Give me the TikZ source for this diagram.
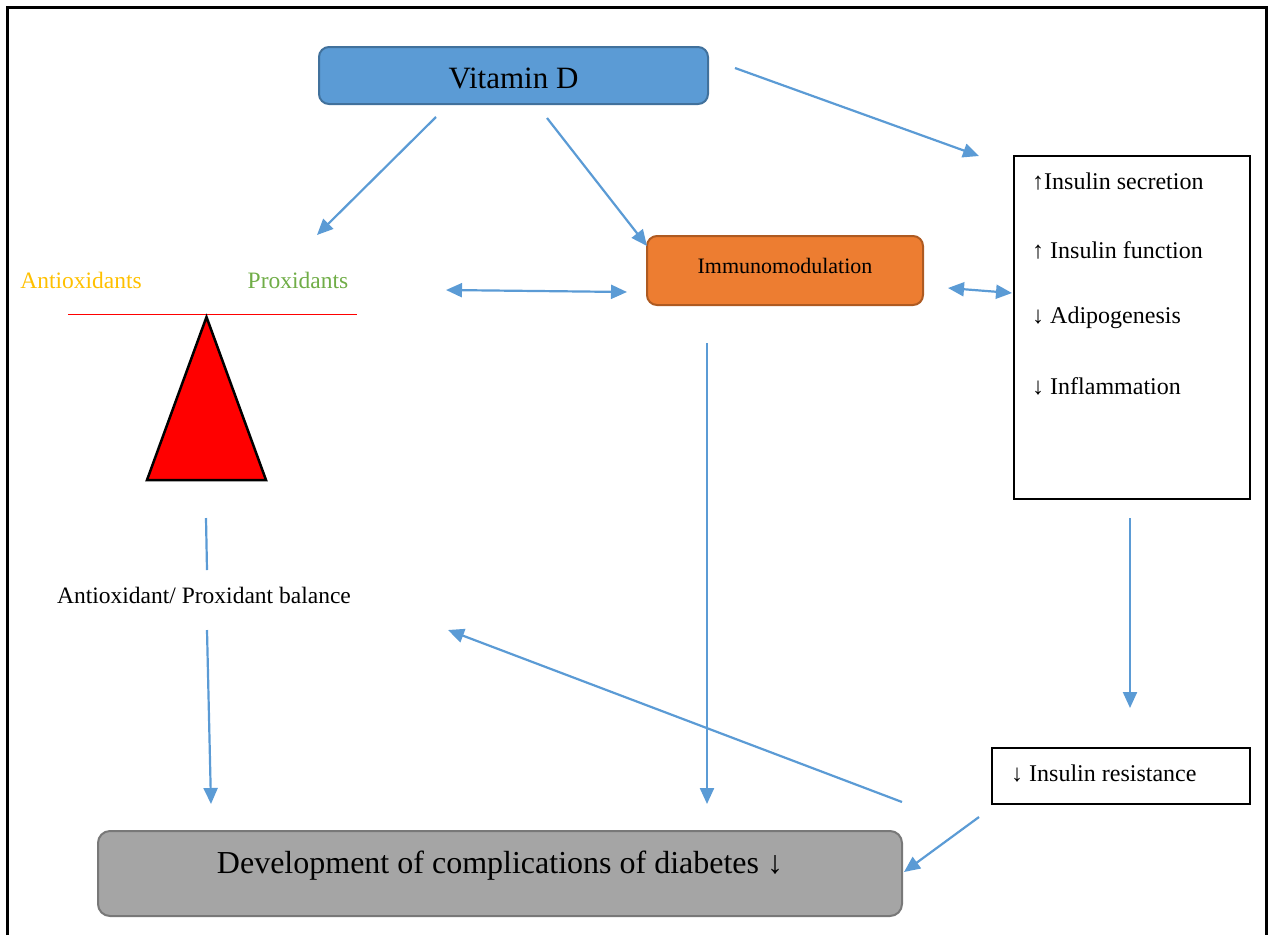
\documentclass[tikz,border=0pt]{standalone}
\usepackage{fontspec}
\setmainfont{Liberation Serif}
\usetikzlibrary{arrows.meta}
\definecolor{vitblue}{HTML}{5B9BD5}
\definecolor{vitedge}{HTML}{41719C}
\definecolor{immfill}{HTML}{ED7D31}
\definecolor{immedge}{HTML}{AE5A21}
\definecolor{devfill}{HTML}{A5A5A5}
\definecolor{devedge}{HTML}{787878}
\definecolor{antiorange}{HTML}{FFC000}
\definecolor{progreen}{HTML}{70AD47}
\definecolor{linkblue}{HTML}{5B9BD5}
\tikzset{
  roundbox/.style={rounded corners=10pt, line width=2pt, inner sep=0pt},
  plainbox/.style={draw=black, line width=2pt, inner sep=0pt},
  txt/.style={inner sep=0pt, anchor=center},
  tip/.tip={Triangle[length=16pt,width=14pt]},
  link/.style={draw=linkblue, line width=2.2pt, -tip},
  dlink/.style={draw=linkblue, line width=2.2pt, tip-tip},
  bare/.style={draw=linkblue, line width=2.2pt},
}
\begin{document}
\begin{tikzpicture}[x=1pt, y=-1pt]
\useasboundingbox (0,0) rectangle (1268,935);
% outer frame, open at the bottom
\draw[line width=3pt] (7.5,935) -- (7.5,7.5) -- (1266.5,7.5) -- (1266.5,935);

% boxes
\draw[roundbox, fill=vitblue, draw=vitedge] (319,47) rectangle (708,104);
\node[txt, font=\fontsize{31}{36}\selectfont] (vitd) at (513.5,78) {Vitamin D};

\draw[roundbox, fill=immfill, draw=immedge] (647,236) rectangle (923,305);
\node[txt, font=\fontsize{22}{26}\selectfont] (immuno) at (785,266) {Immunomodulation};

\draw[plainbox] (1014,156) rectangle (1250,499);
\node[txt, anchor=west, font=\fontsize{24}{28}\selectfont] (isec) at (1032,182) {↑Insulin secretion};
\node[txt, anchor=west, font=\fontsize{24}{28}\selectfont] (ifun) at (1032,250) {↑ Insulin function};
\node[txt, anchor=west, font=\fontsize{24}{28}\selectfont] (adipo) at (1032,318) {↓ Adipogenesis};
\node[txt, anchor=west, font=\fontsize{24}{28}\selectfont] (infl) at (1032,386) {↓ Inflammation};

\draw[plainbox] (992,748) rectangle (1250,804);
\node[txt, anchor=west, font=\fontsize{24}{28}\selectfont] (ires) at (1011,774) {↓ Insulin resistance};

\draw[roundbox, rounded corners=12pt, fill=devfill, draw=devedge] (98,831) rectangle (902,916);
\node[txt, font=\fontsize{32}{38}\selectfont] (dev) at (500,866) {Development of complications of diabetes ↓};

% balance
\node[txt, text=antiorange, font=\fontsize{23.5}{28}\selectfont] (anti) at (81,280) {Antioxidants};
\node[txt, text=progreen, font=\fontsize{23.5}{28}\selectfont] (pro) at (298,280) {Proxidants};
\draw[red, line width=1.6pt] (68,314.5) -- (357,314.5);
\draw[fill=red, draw=black, line width=2.5pt, line join=miter] (206.5,317) -- (266,480) -- (147,480) -- cycle;
\node[txt, font=\fontsize{23.5}{28}\selectfont] (bal) at (204,595) {Antioxidant/ Proxidant balance};

% connector end points
\coordinate (v1s) at (436,117); \coordinate (v1e) at (317,235);
\coordinate (v2s) at (547,118); \coordinate (v2e) at (647,246);
\coordinate (v3s) at (735,68);  \coordinate (v3e) at (979,156);
\coordinate (b1) at (446,290);  \coordinate (b2) at (627,292);
\coordinate (r1) at (948,288);  \coordinate (r2) at (1012,293);
\coordinate (t1) at (206,518);  \coordinate (t2) at (207,570);
\coordinate (l1) at (207,630);  \coordinate (l2) at (211,804);
\coordinate (m1) at (707,343);  \coordinate (m2) at (707,804);
\coordinate (k1) at (1130,518); \coordinate (k2) at (1130,708);
\coordinate (d1) at (902,802);  \coordinate (d2) at (448,630);
\coordinate (e1) at (979,817);  \coordinate (e2) at (904,872);

% connectors
\draw[link] (v1s) -- (v1e);
\draw[link] (v2s) -- (v2e);
\draw[link] (v3s) -- (v3e);
\draw[dlink] (b1) -- (b2);
\draw[dlink] (r1) -- (r2);
\draw[bare] (t1) -- (t2);
\draw[link] (l1) -- (l2);
\draw[link] (m1) -- (m2);
\draw[link] (k1) -- (k2);
\draw[link] (d1) -- (d2);
\draw[link] (e1) -- (e2);
\end{tikzpicture}
\end{document}
